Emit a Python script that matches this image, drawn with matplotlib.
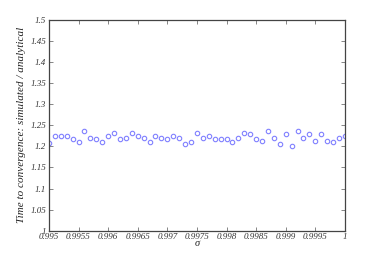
import numpy as np
import matplotlib
matplotlib.use("Agg")
import matplotlib.pyplot as plt

sigma = [0.9950 + 0.0001 * i for i in range(51)]
ratio = [1.208, 1.2255, 1.2255, 1.2255, 1.2175, 1.2095, 1.2357, 1.2207, 1.2167, 1.2095,
         1.2255, 1.232, 1.2167, 1.2207, 1.232, 1.225, 1.2207, 1.2095, 1.225, 1.2207,
         1.2167, 1.225, 1.2207, 1.2057, 1.2095, 1.232, 1.2207, 1.225, 1.2167, 1.2167,
         1.2167, 1.2095, 1.2207, 1.232, 1.2286, 1.2167, 1.2128, 1.2357, 1.2207, 1.2057,
         1.2286, 1.2017, 1.2357, 1.2207, 1.2286, 1.2128, 1.2286, 1.2128, 1.2095, 1.2207,
         1.225]
xticks = [0.995, 0.9955, 0.996, 0.9965, 0.997, 0.9975, 0.998, 0.9985, 0.999, 0.9995, 1.0]
xticklabels = ["0.995", "0.9955", "0.996", "0.9965", "0.997", "0.9975", "0.998", "0.9985", "0.999", "0.9995", "1"]
yticks = [1.0, 1.05, 1.1, 1.15, 1.2, 1.25, 1.3, 1.35, 1.4, 1.45, 1.5]
yticklabels = ["1", "1.05", "1.1", "1.15", "1.2", "1.25", "1.3", "1.35", "1.4", "1.45", "1.5"]

plt.rcParams['font.family'] = ['Liberation Serif', 'DejaVu Serif']
fig = plt.figure(figsize=(3.82, 2.60), dpi=100)
ax = fig.add_axes([0.128, 0.1127, 0.775, 0.8103])
ax.plot(sigma, ratio, linestyle='none', marker='o', markersize=3.2,
        markerfacecolor='none', markeredgecolor='#8080ff', markeredgewidth=0.8)
ax.set_xlim(0.995, 1.0)
ax.set_ylim(1.0, 1.5)
ax.set_xticks(xticks)
ax.set_xticklabels(xticklabels, fontsize=6.5, style='italic', color='#333333')
ax.set_yticks(yticks)
ax.set_yticklabels(yticklabels, fontsize=6.5, style='italic', color='#333333')
ax.tick_params(direction='in', top=True, right=True, length=3, width=0.5, colors='#555555', pad=2,
               labelcolor='#333333')
for s in ax.spines.values():
    s.set_linewidth(0.9)
    s.set_color('#444444')
ax.set_xlabel('σ', fontsize=7.5, style='italic', labelpad=-1.5, color='#222222')
ax.set_ylabel('Time to convergence: simulated / analytical', fontsize=8, style='italic',
              labelpad=3, color='#222222')
fig.savefig('out.png', dpi=100)
